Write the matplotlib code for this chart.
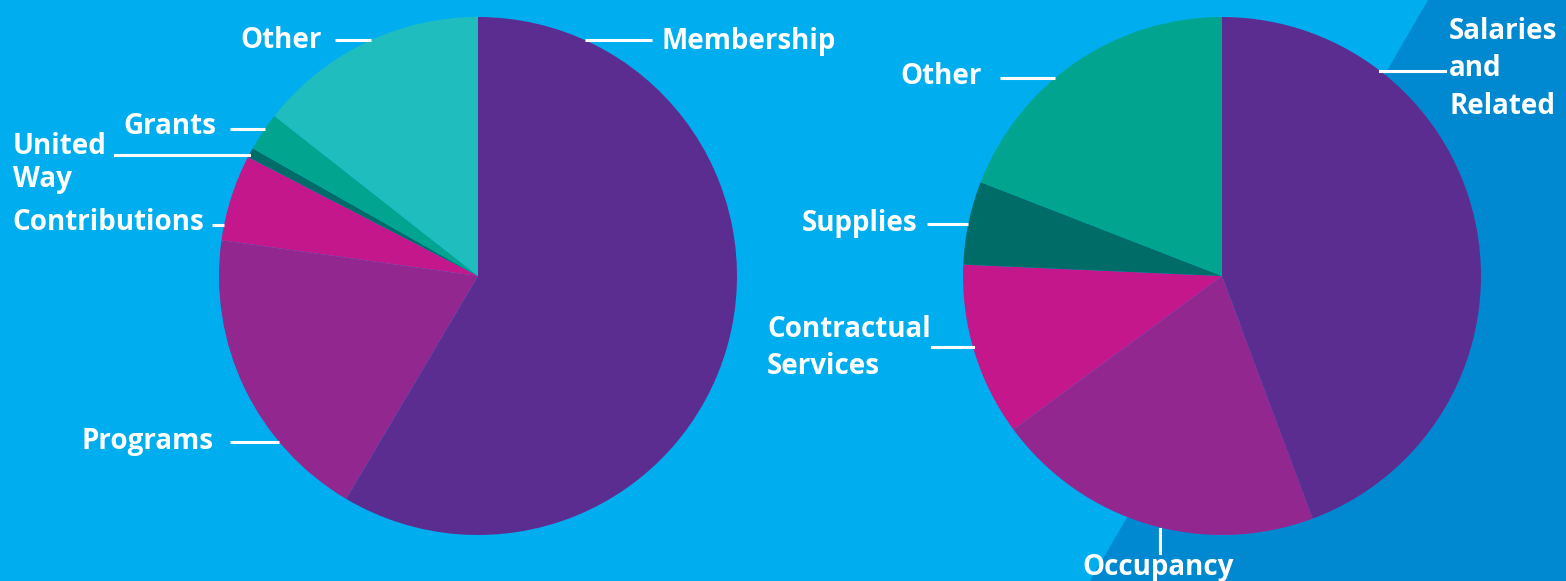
import numpy as np
import matplotlib
matplotlib.use('Agg')
import matplotlib.pyplot as plt

# income / expense shares (percent)
income_labels = ['Membership', 'Programs', 'Contributions', 'United Way', 'Grants', 'Other']
income_values = [58.5, 18.7, 5.4, 0.6, 2.4, 14.4]
income_colors = ['#5C2D91', '#92278F', '#C4178C', '#006C68', '#00A48F', '#20BDBE']

expense_labels = ['Salaries and Related', 'Occupancy', 'Contractual Services', 'Supplies', 'Other']
expense_values = [44.3, 20.6, 10.8, 5.2, 19.1]
expense_colors = ['#5C2D91', '#92278F', '#C4178C', '#006C68', '#00A48F']

W, H = 1566, 581
BG = '#00AEEF'
BAND = '#0089D0'
R = 259

plt.rcParams['font.family'] = ['Open Sans', 'DejaVu Sans']

fig = plt.figure(figsize=(W / 100, H / 100), dpi=100, facecolor=BG)
ax = fig.add_axes([0, 0, 1, 1])
ax.set_facecolor(BG)

# darker diagonal band on the right
ax.fill([1428, W, W, 1090], [H, H, 0, 0], color=BAND, zorder=0, lw=0)

left_c = (478, H - 276)
right_c = (1222, H - 276)

ax.pie(income_values, colors=income_colors, startangle=90, counterclock=False,
       center=left_c, radius=R, wedgeprops=dict(linewidth=0), frame=True)
ax.pie(expense_values, colors=expense_colors, startangle=90, counterclock=False,
       center=right_c, radius=R, wedgeprops=dict(linewidth=0), frame=True)


def rim_x(c, y, side):
    dy = (H - y) - c[1]
    return c[0] + side * np.sqrt(max(R * R - dy * dy, 0))


txt = dict(color='white', fontsize=20, fontweight='bold', va='center')
lw = 2.2

# (text, text x, text y, ha, line start x, line y, pie centre, side)
labels_left = [
    ('Other', 322, 40, 'right', 335, 40, left_c, -1),
    ('Membership', 662, 41, 'left', 652, 40, left_c, 1),
    ('Grants', 216, 127, 'right', 230, 129, left_c, -1),
    ('Contributions', 12, 223, 'left', 212, 225, left_c, -1),
    ('Programs', 214, 442, 'right', 230, 442, left_c, -1),
]
labels_right = [
    ('Other', 982, 77, 'right', 1000, 78, right_c, -1),
    ('Supplies', 917, 224, 'right', 927, 224, right_c, -1),
]

for t, tx, ty, ha, lx, ly, c, side in labels_left + labels_right:
    ax.text(tx, H - ty, t, ha=ha, **txt)
    ax.plot([lx, rim_x(c, ly, side)], [H - ly, H - ly], color='white', lw=lw, solid_capstyle='butt')

# multi-line labels
ax.text(13, H - 163, 'United\nWay', ha='left', linespacing=1.2, **txt)
ax.plot([115, rim_x(left_c, 155, -1)], [H - 155, H - 155], color='white', lw=lw)

ax.text(1449, H - 69, 'Salaries\nand\nRelated', ha='left', linespacing=1.4, **txt)
ax.plot([1445, rim_x(right_c, 71, 1)], [H - 71, H - 71], color='white', lw=lw)

ax.text(767, H - 348, 'Contractual\nServices', ha='left', linespacing=1.4, **txt)
ax.plot([932, rim_x(right_c, 347, -1)], [H - 347, H - 347], color='white', lw=lw)

ax.text(1158, H - 568, 'Occupancy', ha='center', **txt)
ax.plot([1160, 1160], [H - 529, H - 553], color='white', lw=lw)

ax.set_xlim(0, W)
ax.set_ylim(0, H)
ax.set_aspect('auto')
ax.axis('off')

fig.savefig('out.png', dpi=100, facecolor=BG)
